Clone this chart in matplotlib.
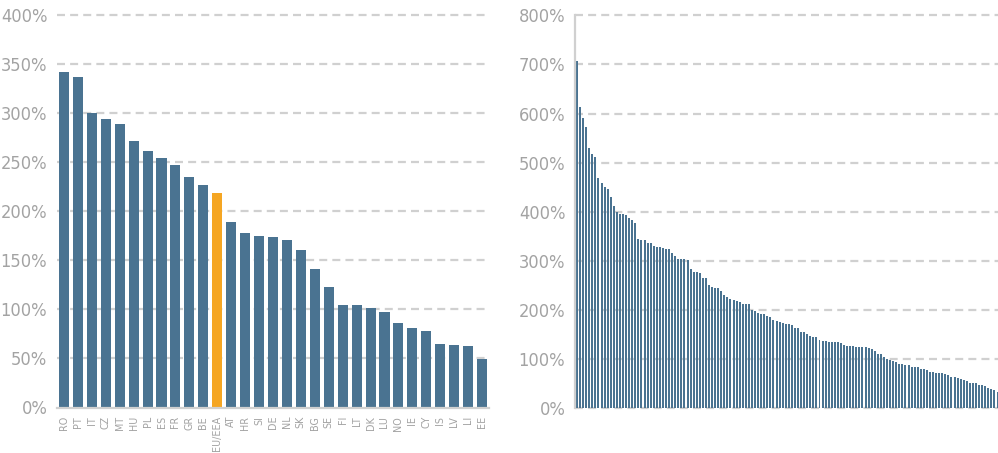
import matplotlib
matplotlib.use("Agg")
import matplotlib.pyplot as plt
from matplotlib import font_manager as fm
from matplotlib.textpath import TextPath
import numpy as np

# left chart: countries
countries = ["RO", "PT", "IT", "CZ", "MT", "HU", "PL", "ES", "FR", "GR", "BE", "EU/EEA",
             "AT", "HR", "SI", "DE", "NL", "SK", "BG", "SE", "FI", "LT", "DK", "LU",
             "NO", "IE", "CY", "IS", "LV", "LI", "EE"]
country_vals = [342, 337, 300, 294, 289, 271, 261, 254, 247, 235, 227, 218,
                189, 178, 175, 174, 171, 160, 141, 123, 104, 104, 101, 97,
                86, 81, 78, 65, 64, 63, 49]

# right chart: many sorted values, no labels
right_vals = [707, 614, 591, 573, 530, 518, 512, 469, 459, 451,
              447, 430, 412, 400, 396, 396, 394, 388, 383, 377,
              345, 343, 343, 337, 337, 331, 329, 329, 327, 324,
              324, 316, 310, 304, 304, 304, 302, 284, 278, 278,
              276, 265, 265, 251, 247, 245, 245, 239, 231, 227,
              223, 221, 219, 217, 212, 212, 212, 200, 198, 194,
              192, 192, 188, 186, 180, 178, 176, 174, 172, 172,
              170, 164, 164, 155, 155, 151, 147, 145, 145, 139,
              137, 137, 135, 135, 135, 135, 133, 129, 127, 127,
              127, 125, 125, 125, 125, 123, 121, 117, 111, 111,
              104, 100, 98, 96, 94, 90, 90, 88, 88, 84,
              84, 84, 80, 80, 78, 74, 74, 72, 72, 72,
              70, 68, 64, 64, 62, 60, 58, 56, 52, 52,
              52, 48, 48, 46, 41, 39, 37, 33]

blue = "#4a7391"
orange = "#f5a623"
grid_c = "#d0d0d0"
text_c = "#a3a3a3"
dash = (0, (3.6, 2.3))


def pick_narrow_font():
    # look for any condensed / narrow face that is installed
    narrow = ("condensed", "narrow")
    best = None
    for f in fm.fontManager.ttflist:
        name = f.name.lower()
        st = str(f.stretch).lower()
        if any(k in name for k in narrow) or "condensed" in st:
            if f.style != "normal":
                continue
            w = f.weight if isinstance(f.weight, int) else 400
            score = abs(w - 350)
            if best is None or score < best[0]:
                best = (score, f.fname)
    if best:
        return fm.FontProperties(fname=best[1])
    return fm.FontProperties(family="DejaVu Sans")


fp = pick_narrow_font()


def fit_size(text, target_px, max_pt):
    w = TextPath((0, 0), text, size=max_pt, prop=fp).get_extents().width * 100 / 72
    return min(max_pt, max_pt * target_px / w)


ysize = fit_size("400%", 45, 17)
xsize = fit_size("EU/EEA", 34, 9)

fig = plt.figure(figsize=(9.98, 4.53), dpi=100)
W, H = 998, 453


def axes_px(x0, y0, x1, y1):
    return fig.add_axes([x0 / W, 1 - y1 / H, (x1 - x0) / W, (y1 - y0) / H])


ax1 = axes_px(57, 14.7, 489, 407.5)
ax2 = axes_px(575, 15.3, 998, 408.3)

# left chart
cols = [orange if c == "EU/EEA" else blue for c in countries]
x1 = np.arange(len(countries))
ax1.bar(x1, country_vals, width=0.72, color=cols, zorder=2)
ax1.set_xlim(-0.5, len(countries) - 0.5)
ax1.set_ylim(0, 400)
ax1.set_yticks(np.arange(0, 401, 50))
ax1.set_yticklabels([f"{v}%" for v in range(0, 401, 50)])
for v in range(50, 401, 50):
    ax1.axhline(v, color=grid_c, lw=1.6, ls=dash, zorder=1, clip_on=False)
ax1.set_xticks(x1)
ax1.set_xticklabels(countries, rotation=90)
for s in ["top", "right", "left"]:
    ax1.spines[s].set_visible(False)
ax1.spines["bottom"].set_color(grid_c)
ax1.spines["bottom"].set_linewidth(1.6)
ax1.tick_params(axis="y", length=0, pad=7, labelcolor=text_c)
ax1.tick_params(axis="x", length=0, pad=6, labelcolor=text_c)

# right chart
x2 = np.arange(len(right_vals))
ax2.bar(x2, right_vals, width=0.65, color=blue, zorder=2)
ax2.set_xlim(-0.65, len(right_vals) - 0.85)
ax2.set_ylim(0, 800)
ax2.set_yticks(np.arange(0, 801, 100))
ax2.set_yticklabels([f"{v}%" for v in range(0, 801, 100)])
for v in range(0, 801, 100):
    ax2.axhline(v, color=grid_c, lw=1.6, ls=dash, zorder=1, clip_on=False)
ax2.set_xticks([])
for s in ["top", "right", "bottom"]:
    ax2.spines[s].set_visible(False)
ax2.spines["left"].set_color(grid_c)
ax2.spines["left"].set_linewidth(1.6)
ax2.tick_params(axis="y", length=0, pad=7, labelcolor=text_c)

for ax in (ax1, ax2):
    for lab in ax.get_yticklabels():
        lab.set_fontproperties(fp)
        lab.set_fontsize(ysize)
    for lab in ax.get_xticklabels():
        lab.set_fontproperties(fp)
        lab.set_fontsize(xsize)

fig.savefig("out.png", dpi=100)
